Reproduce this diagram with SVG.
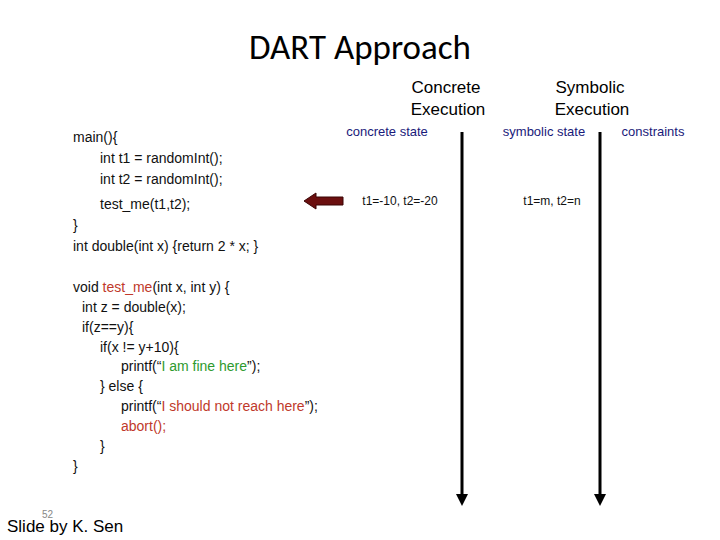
<svg xmlns="http://www.w3.org/2000/svg" width="720" height="540" viewBox="0 0 720 540">
<style>
.t{font-family:"Liberation Sans",Arial,sans-serif;}
.c{font-family:"Liberation Sans",Arial,sans-serif;font-size:14px;fill:#111}
.b{font-family:"Liberation Sans",Arial,sans-serif;font-size:13px;fill:#1a1a7a}
.s{font-family:"Liberation Sans",Arial,sans-serif;font-size:12px;fill:#111}
.r{fill:#c0392b}.g{fill:#2e9a2e}
.ln{stroke:#000;stroke-width:3;fill:none}
</style>
<defs><marker id="ah" markerWidth="4" markerHeight="4" refX="2" refY="2" orient="auto" markerUnits="strokeWidth"><path d="M0,0L4,2L0,4z" fill="#000"/></marker></defs>
<text x="360" y="59" text-anchor="middle" font-family="Calibri,Carlito,'Open Sans',sans-serif" font-size="35" fill="#000">DART Approach</text>
<g id="header-concrete"><text class="t" x="446" y="93" text-anchor="middle" font-size="17">Concrete</text><text class="t" x="448" y="115" text-anchor="middle" font-size="17">Execution</text></g>
<g id="header-symbolic"><text class="t" x="590" y="93" text-anchor="middle" font-size="17">Symbolic</text><text class="t" x="592" y="115" text-anchor="middle" font-size="17">Execution</text></g>
<g id="labels"><text class="b" x="387" y="136" text-anchor="middle">concrete state</text><text class="b" x="544" y="136" text-anchor="middle">symbolic state</text><text class="b" x="653" y="136" text-anchor="middle">constraints</text></g>
<g id="values"><text class="s" x="400" y="205" text-anchor="middle">t1=-10, t2=-20</text><text class="s" x="552" y="205" text-anchor="middle">t1=m, t2=n</text></g>
<g id="connectors">
<line class="ln" x1="462" y1="132" x2="462" y2="500" marker-end="url(#ah)"/>
<line class="ln" x1="600" y1="132" x2="600" y2="500" marker-end="url(#ah)"/>
<path d="M343,197L316,197L316,193L304,201L316,209L316,205L343,205Z" fill="#6b0f0f" stroke="#3a0505" stroke-width="1"/>
</g>
<g id="code">
<text class="c" x="73" y="142">main(){</text>
<text class="c" x="100" y="163">int t1 = randomInt();</text>
<text class="c" x="100" y="184">int t2 = randomInt();</text>
<text class="c" x="100" y="209">test_me(t1,t2);</text>
<text class="c" x="73" y="230">}</text>
<text class="c" x="73" y="251">int double(int x) {return 2 * x; }</text>
<text class="c" x="73" y="292">void <tspan class="r">test_me</tspan>(int x, int y) {</text>
<text class="c" x="82" y="312">int z = double(x);</text>
<text class="c" x="82" y="332">if(z==y){</text>
<text class="c" x="100" y="352">if(x != y+10){</text>
<text class="c" x="121" y="371">printf(“<tspan class="g">I am fine here</tspan>”);</text>
<text class="c" x="100" y="391">} else {</text>
<text class="c" x="121" y="411">printf(“<tspan class="r">I should not reach here</tspan>”);</text>
<text class="c" x="121" y="431"><tspan class="r">abort();</tspan></text>
<text class="c" x="100" y="451">}</text>
<text class="c" x="73" y="471">}</text>
</g>
<text class="t" x="42" y="518" font-size="10" fill="#888">52</text>
<text class="t" x="7" y="532" font-size="17" fill="#000">Slide by K. Sen</text>
</svg>
